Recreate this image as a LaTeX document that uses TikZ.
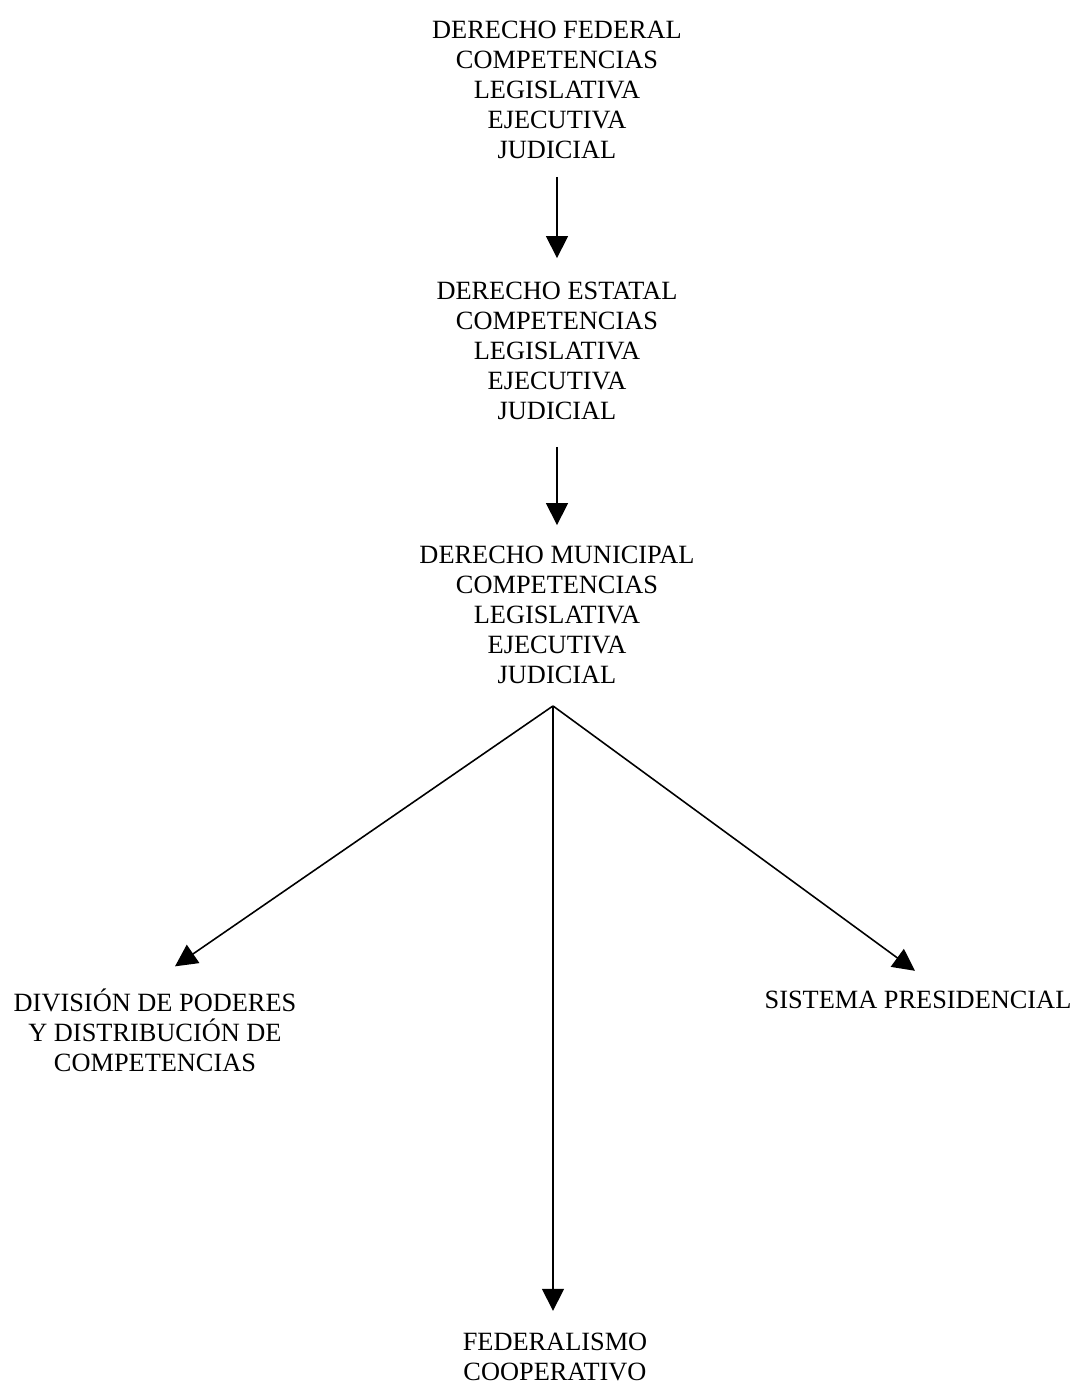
\documentclass[tikz,border=0pt]{standalone}
\usepackage{fontspec}
\setmainfont{Liberation Serif}
\usetikzlibrary{positioning,arrows.meta}

\begin{document}
\begin{tikzpicture}[x=0.02cm, y=-0.02cm,
    txt/.style={align=center, inner sep=0pt, font=\fontsize{15}{17}\selectfont},
    arr/.style={-{Triangle[length=0.44cm, width=0.44cm]}, line width=0.9pt}]
    \useasboundingbox (0,0) rectangle (1078,1392);

    % Levels of law, top to bottom
    \node[txt] (federal) at (557,90) {DERECHO FEDERAL\\COMPETENCIAS\\LEGISLATIVA\\EJECUTIVA\\JUDICIAL};
    \node[txt] (estatal) at (557,351) {DERECHO ESTATAL\\COMPETENCIAS\\LEGISLATIVA\\EJECUTIVA\\JUDICIAL};
    \node[txt] (municipal) at (557,615) {DERECHO MUNICIPAL\\COMPETENCIAS\\LEGISLATIVA\\EJECUTIVA\\JUDICIAL};

    \draw[arr, shorten <=0.36cm, shorten >=0.48cm] (federal.south) -- (estatal.north);
    \draw[arr, shorten <=0.54cm, shorten >=0.42cm] (estatal.south) -- (municipal.north);

    % Branches from the municipal level
    \coordinate (split) at ([xshift=-0.08cm, yshift=-0.44cm]municipal.south);

    \node[txt] (division) at (155,1030) {DIVISIÓN DE PODERES\\Y DISTRIBUCIÓN DE\\COMPETENCIAS};
    \node[txt] (presidencial) at (918,1000) {SISTEMA PRESIDENCIAL};
    \node[txt] (federalismo) at (555,1357) {FEDERALISMO\\COOPERATIVO};

    \draw[arr] (split) -- ([xshift=0.4cm, yshift=0.44cm]division.north);
    \draw[arr] (split) -- ([xshift=-0.06cm, yshift=0.4cm]presidencial.north);
    \draw[arr, shorten >=0.44cm] (split) -- (split |- federalismo.north);
\end{tikzpicture}
\end{document}
